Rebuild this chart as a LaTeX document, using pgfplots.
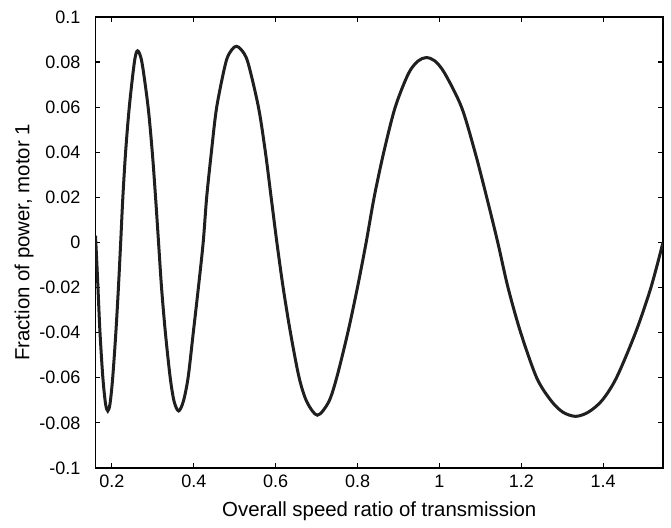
\documentclass[border=0pt]{standalone}
\usepackage{fontspec}
\setmainfont{Liberation Sans}
\usepackage{pgfplots}
\pgfplotsset{compat=1.18}

\begin{document}
\begin{tikzpicture}
\begin{axis}[
    scale only axis,
    width=283.75pt,
    height=225.5pt,
    xmin=0.16, xmax=1.546,
    ymin=-0.1, ymax=0.1,
    axis line style={line width=0.6pt},
    tick align=inside,
    tick pos=both,
    major tick length=2.3pt,
    tick style={line width=0.6pt, black},
    xtick={0.2,0.4,0.6,0.8,1,1.2,1.4},
    xticklabels={0.2,0.4,0.6,0.8,1,1.2,1.4},
    ytick={-0.1,-0.08,-0.06,-0.04,-0.02,0,0.02,0.04,0.06,0.08,0.1},
    yticklabels={-0.1,-0.08,-0.06,-0.04,-0.02,0,0.02,0.04,0.06,0.08,0.1},
    ticklabel style={font=\fontsize{9}{10}\selectfont},
    yticklabel style={xshift=-4pt},
    xlabel={Overall speed ratio of transmission},
    ylabel={Fraction of power, motor 1},
    label style={font=\fontsize{10.2}{12}\selectfont},
    xlabel style={at={(axis description cs:0.5,-0.0953)}, anchor=center},
    ylabel style={at={(axis description cs:-0.126,0.5)}, anchor=center},
]
\addplot[smooth, line width=1.5pt, color=black!88] coordinates {
    (0.1600, 0.003)
    (0.1635, -0.010)
    (0.1660, -0.020)
    (0.1710, -0.040)
    (0.1780, -0.060)
    (0.1845, -0.0715)
    (0.1900, -0.0747)
    (0.1955, -0.0715)
    (0.2020, -0.060)
    (0.2097, -0.040)
    (0.2160, -0.020)
    (0.2215, 0.000)
    (0.2268, 0.020)
    (0.2335, 0.040)
    (0.2425, 0.060)
    (0.2550, 0.080)
    (0.2627, 0.0850)
    (0.2733, 0.080)
    (0.2885, 0.060)
    (0.2987, 0.040)
    (0.3067, 0.020)
    (0.3140, 0.000)
    (0.3213, -0.020)
    (0.3307, -0.040)
    (0.3425, -0.060)
    (0.3520, -0.0705)
    (0.3630, -0.0747)
    (0.3745, -0.0705)
    (0.3861, -0.060)
    (0.3988, -0.040)
    (0.4113, -0.020)
    (0.4230, 0.000)
    (0.4315, 0.020)
    (0.4430, 0.040)
    (0.4560, 0.060)
    (0.4785, 0.080)
    (0.4930, 0.0855)
    (0.5040, 0.0870)
    (0.5160, 0.0855)
    (0.5320, 0.080)
    (0.5580, 0.060)
    (0.5750, 0.040)
    (0.5890, 0.020)
    (0.6030, 0.000)
    (0.6183, -0.020)
    (0.6362, -0.040)
    (0.6574, -0.060)
    (0.6763, -0.0707)
    (0.7020, -0.0766)
    (0.7295, -0.0707)
    (0.7490, -0.060)
    (0.7762, -0.040)
    (0.7997, -0.020)
    (0.8210, 0.000)
    (0.8405, 0.020)
    (0.8640, 0.040)
    (0.8920, 0.060)
    (0.9245, 0.075)
    (0.9480, 0.0805)
    (0.9680, 0.0820)
    (0.9890, 0.0805)
    (1.0130, 0.075)
    (1.0540, 0.060)
    (1.0870, 0.040)
    (1.1155, 0.020)
    (1.1425, 0.000)
    (1.1675, -0.020)
    (1.1985, -0.040)
    (1.2375, -0.060)
    (1.2720, -0.070)
    (1.3010, -0.0752)
    (1.3325, -0.0771)
    (1.3640, -0.0752)
    (1.3974, -0.070)
    (1.4323, -0.060)
    (1.4789, -0.040)
    (1.5165, -0.020)
    (1.5460, 0.000)
};
\end{axis}
\path ([xshift=-47.75pt]current axis.west) ([xshift=4pt]current axis.east)
      ([yshift=8.5pt]current axis.north) ([yshift=-29pt]current axis.south);
\end{tikzpicture}
\end{document}
